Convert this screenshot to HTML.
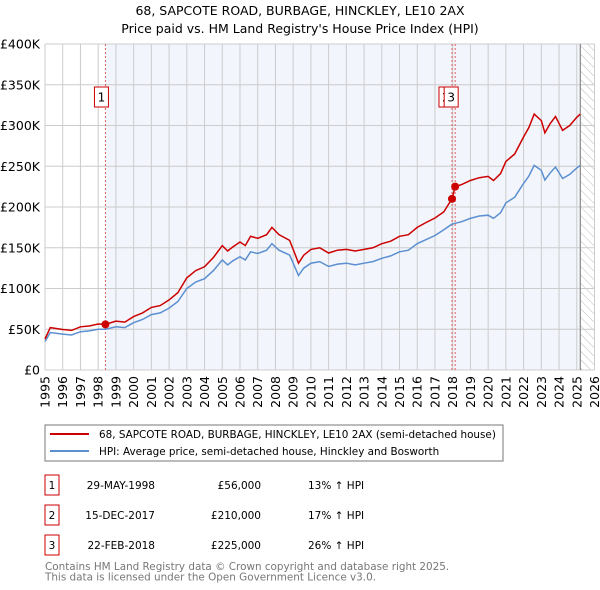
<!DOCTYPE html>
<html><head><meta charset="utf-8">
<style>
body{margin:0;background:#fff;font-family:"Liberation Sans","DejaVu Sans",sans-serif;}
#wrap{position:relative;width:600px;height:590px;overflow:hidden;}
svg text{font-family:"DejaVu Sans","Liberation Sans",sans-serif;}
</style></head>
<body><div id="wrap">
<svg id="chart" width="600" height="590"></svg>
</div>
<script>
const years=[1995,1996,1997,1998,1999,2000,2001,2002,2003,2004,2005,2006,2007,2008,2009,2010,2011,2012,2013,2014,2015,2016,2017,2018,2019,2020,2021,2022,2023,2024,2025,2026];
const yTicks=[0,50,100,150,200,250,300,350,400];
const yTickLabels=["£0","£50K","£100K","£150K","£200K","£250K","£300K","£350K","£400K"];
const times=[1995,1995.3,1996,1996.5,1997,1997.5,1998,1998.41,1999,1999.5,2000,2000.5,2001,2001.5,2002,2002.5,2003,2003.5,2004,2004.5,2005,2005.3,2005.6,2006,2006.3,2006.6,2007,2007.5,2007.8,2008.2,2008.8,2009.0,2009.3,2009.6,2010,2010.5,2011,2011.5,2012,2012.5,2013,2013.5,2014,2014.5,2015,2015.5,2016,2016.5,2017,2017.5,2017.96,2018.14,2018.5,2019,2019.5,2020,2020.3,2020.7,2021,2021.5,2022,2022.3,2022.6,2023,2023.2,2023.5,2023.8,2024.2,2024.6,2025,2025.2];
const hpi=[35,46,44,43,47,48,50,50,53,52,58,62,68,70,76,84,100,108,112,122,135,129,134,139,135,145,143,147,155,147,141,131,116,125,131,133,127,130,131,129,131,133,137,140,145,147,155,160,165,172,179,180,182,186,189,190,186,193,205,212,229,238,251,245,233,242,249,235,240,248,251];
const price=[38,52,49.7,48.6,53,54,56.5,56,60,58.8,65.5,70,76.8,79,86,95,113,122,126.6,138,152.6,146,151,157,152.6,164,161.6,166,175,166,159,148,131,141,148,150,143.5,147,148,146,148,150,155,158,164,166,175,181,186.5,194,210,225,227.5,232.5,236,237.5,232.5,241,256,265,286,297.5,314,306,291,302.5,311,294,300,310,314];
const saleT=[1998.41,2017.96,2018.14];
const saleV=[56,210,225];
const saleLabels=["1","2","3"];

const NS="http://www.w3.org/2000/svg";
const svg=document.getElementById('chart');
const L=45,R=594.5,T=44,B=370;
const X=t=>L+(t-1995)/31*(R-L);
const Y=v=>B-v/400*(B-T);
function el(tag,attrs,parent){const e=document.createElementNS(NS,tag);for(const k in attrs)e.setAttribute(k,attrs[k]);(parent||svg).appendChild(e);return e;}
function txt(s,attrs,parent){const e=el('text',attrs,parent);e.textContent=s;return e;}

let t1=txt("68, SAPCOTE ROAD, BURBAGE, HINCKLEY, LE10 2AX",{x:300,y:15,'text-anchor':'middle','font-size':12.5,fill:'#000'});


let t2=txt("Price paid vs. HM Land Registry's House Price Index (HPI)",{x:300,y:33,'text-anchor':'middle','font-size':12.5,fill:'#000'});



let sh=el('rect',{x:X(saleT[0]),y:T,width:X(2025.2)-X(saleT[0]),height:B-T,fill:'#eef2fb',opacity:0.75});


const defs=el('defs',{});
const pat=el('pattern',{id:'hatch',width:6,height:6,patternUnits:'userSpaceOnUse',patternTransform:'rotate(-45)'},defs);
el('line',{x1:0,y1:0,x2:0,y2:6,stroke:'#bbb','stroke-width':1},pat);
let hr=el('rect',{x:X(2025.2),y:T,width:R-X(2025.2),height:B-T,fill:'url(#hatch)'});



years.forEach(yr=>{
  let g=el('line',{x1:X(yr),x2:X(yr),y1:T,y2:B,stroke:'#cccccc','stroke-width':1});
  
  
  let lb=txt(String(yr),{x:0,y:0,'font-size':12.5,fill:'#000','text-anchor':'end',transform:`translate(${X(yr)+4.5},${B+6}) rotate(-90)`});
  
  
});
yTicks.forEach((v,i)=>{
  let g=el('line',{x1:L,x2:R,y1:Y(v),y2:Y(v),stroke:'#cccccc','stroke-width':1});
  
  
  let lb=txt(yTickLabels[i],{x:40,y:Y(v)+4.5,'font-size':12.5,fill:'#000','text-anchor':'end'});
  
  
});
let ln=el('line',{x1:X(2025.2),x2:X(2025.2),y1:T,y2:B,stroke:'#888','stroke-width':1.2});



saleT.forEach(t=>{
  let d=el('line',{x1:X(t),x2:X(t),y1:T,y2:B,stroke:'#e06060','stroke-width':1,'stroke-dasharray':'2,2'});
  
  
});

const pts=arr=>arr.map((v,i)=>X(times[i]).toFixed(1)+','+Y(v).toFixed(1)).join(' ');
let hl=el('polyline',{points:pts(hpi),fill:'none',stroke:'#5b8fd0','stroke-width':1.5});


let pl=el('polyline',{points:pts(price),fill:'none',stroke:'#cc0000','stroke-width':1.5});



saleT.forEach((t,i)=>{
  let c=el('circle',{cx:X(t),cy:Y(saleV[i]),r:4,fill:'#cc0000'});
  
  
});
const boxX=[X(saleT[0])-11,X(saleT[1])-13,X(saleT[2])-11];
saleLabels.forEach((s,i)=>{
  const g=el('g',{});
  
  
  el('rect',{x:boxX[i],y:87,width:14,height:20,fill:'#fff',stroke:'#cc0000','stroke-width':1},g);
  txt(s,{x:boxX[i]+7,y:101.5,'font-size':12,'text-anchor':'middle',fill:'#000'},g);
});

const lg=el('g',{});


el('rect',{x:45,y:425,width:458,height:36,fill:'#fff',stroke:'#777','stroke-width':1},lg);
el('line',{x1:50,x2:89,y1:434,y2:434,stroke:'#cc0000','stroke-width':2},lg);
el('line',{x1:50,x2:89,y1:451,y2:451,stroke:'#5b8fd0','stroke-width':2},lg);
let le1=txt("68, SAPCOTE ROAD, BURBAGE, HINCKLEY, LE10 2AX (semi-detached house)",{x:99,y:438,'font-size':10.4,fill:'#000'},lg);


let le2=txt("HPI: Average price, semi-detached house, Hinckley and Bosworth",{x:99,y:455,'font-size':10.4,fill:'#000'},lg);



const dates=["29-MAY-1998","15-DEC-2017","22-FEB-2018"];
const prices=["£56,000","£210,000","£225,000"];
const pcts=["13% ↑ HPI","17% ↑ HPI","26% ↑ HPI"];
dates.forEach((d,i)=>{
  const y0=475+i*30;
  const g=el('g',{});
  
  
  el('rect',{x:45,y:y0,width:14,height:20,fill:'#fff',stroke:'#cc0000','stroke-width':1},g);
  txt(String(i+1),{x:52,y:y0+14,'font-size':10.5,'text-anchor':'middle',fill:'#000'},g);
  txt(d,{x:155,y:y0+14,'font-size':10.5,'text-anchor':'end',fill:'#000'},g);
  txt(prices[i],{x:261,y:y0+14,'font-size':10.5,'text-anchor':'end',fill:'#000'},g);
  txt(pcts[i],{x:308,y:y0+14,'font-size':10.5,fill:'#000'},g);
});
let f1=txt("Contains HM Land Registry data © Crown copyright and database right 2025.",{x:45,y:570,'font-size':10.4,fill:'#777'});


let f2=txt("This data is licensed under the Open Government Licence v3.0.",{x:45,y:580.5,'font-size':10.4,fill:'#777'});


</script>
</body></html>
